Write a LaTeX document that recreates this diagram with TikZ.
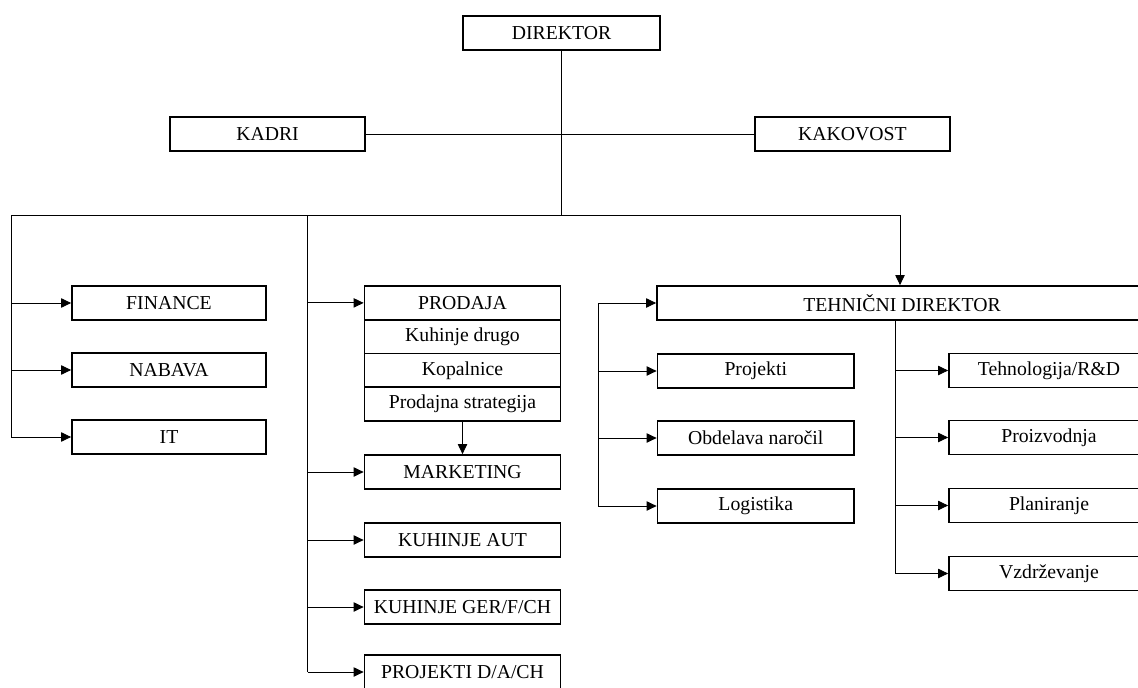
\documentclass[tikz,border=0pt]{standalone}
\usepackage{fontspec}
\setmainfont{Liberation Serif}
\usetikzlibrary{arrows.meta}
\begin{document}
\begin{tikzpicture}[x=0.75pt,y=-0.75pt,
  box/.style={draw, line width=1.3pt, inner sep=0pt, minimum height=34*0.75pt,
              font=\fontsize{14.8}{16}\selectfont},
  wd/.style={minimum width=#1*0.75pt},
  ht/.style={minimum height=#1*0.75pt},
  link/.style={line width=0.7pt},
  arr/.style={link, -{Triangle[length=7.5pt,width=7pt]}}
]
\useasboundingbox (0,0) rectangle (1138,688);

% top management
\node[box,wd=197] (dir) at (561.5,33) {DIREKTOR};
\node[box,wd=195] (kadri) at (267.5,134) {KADRI};
\node[box,wd=195] (kak) at (852.5,134) {KAKOVOST};

% left column
\node[box,wd=194] (fin) at (169,303) {FINANCE};
\node[box,wd=194] (nab) at (169,370) {NABAVA};
\node[box,wd=194] (it)  at (169,437) {IT};

% sales column
\node[box,wd=196,ht=33.75] (prod)  at (462.5,302.9) {PRODAJA};
\node[box,wd=196,ht=33.75] (kuh)   at (462.5,336.6) {Kuhinje drugo};
\node[box,wd=196,ht=33.75] (kop)   at (462.5,370.4) {Kopalnice};
\node[box,wd=196,ht=33.75] (strat) at (462.5,404.1) {Prodajna strategija};
\node[box,wd=196] (mkt)  at (462.5,472) {MARKETING};
\node[box,wd=196] (aut)  at (462.5,540) {KUHINJE AUT};
\node[box,wd=196] (ger)  at (462.5,607) {KUHINJE GER/F/CH};
\node[box,wd=196] (proj) at (462.5,672) {PROJEKTI D/A/CH};

% technical division
\node[box,wd=490] (td) at (902,303) {TEHNIČNI DIREKTOR};
\node[box,wd=196.5] (pro) at (755.75,371) {Projekti};
\node[box,wd=196.5] (obd) at (755.75,438) {Obdelava naročil};
\node[box,wd=196.5] (log) at (755.75,506) {Logistika};
\node[box,wd=200] (teh)   at (1049,370.5) {Tehnologija/R\&D};
\node[box,wd=200] (proiz) at (1049,437.5) {Proizvodnja};
\node[box,wd=200] (plan)  at (1049,505.5) {Planiranje};
\node[box,wd=200] (vzd)   at (1049,573.5) {Vzdrževanje};

% bus and branch points
\coordinate (busL) at (11,215);
\coordinate (busM) at (307.5,215);
\coordinate (busR) at (900,215);
\coordinate (tl) at (598,0);
\coordinate (tr) at (895,0);

\draw[link] (dir.south) -- (dir.south |- busL);
\draw[link] (kadri.east) -- (kak.west);
\draw[arr] (busL) -- (busR) -- (busR |- td.north);

\draw[link] (busL) -- (busL |- it.west);
\foreach \n in {fin,nab,it} \draw[arr] (busL |- \n.west) -- (\n.west);

\draw[link] (busM) -- (busM |- proj.west);
\foreach \n in {prod,mkt,aut,ger,proj} \draw[arr] (busM |- \n.west) -- (\n.west);
\draw[arr] (strat.south) -- (mkt.north);

\draw[link] (tl |- td.west) -- (tl |- log.west);
\foreach \n in {td,pro,obd,log} \draw[arr] (tl |- \n.west) -- (\n.west);

\draw[link] (tr |- td.south) -- (tr |- vzd.west);
\foreach \n in {teh,proiz,plan,vzd} \draw[arr] (tr |- \n.west) -- (\n.west);
\end{tikzpicture}
\end{document}
